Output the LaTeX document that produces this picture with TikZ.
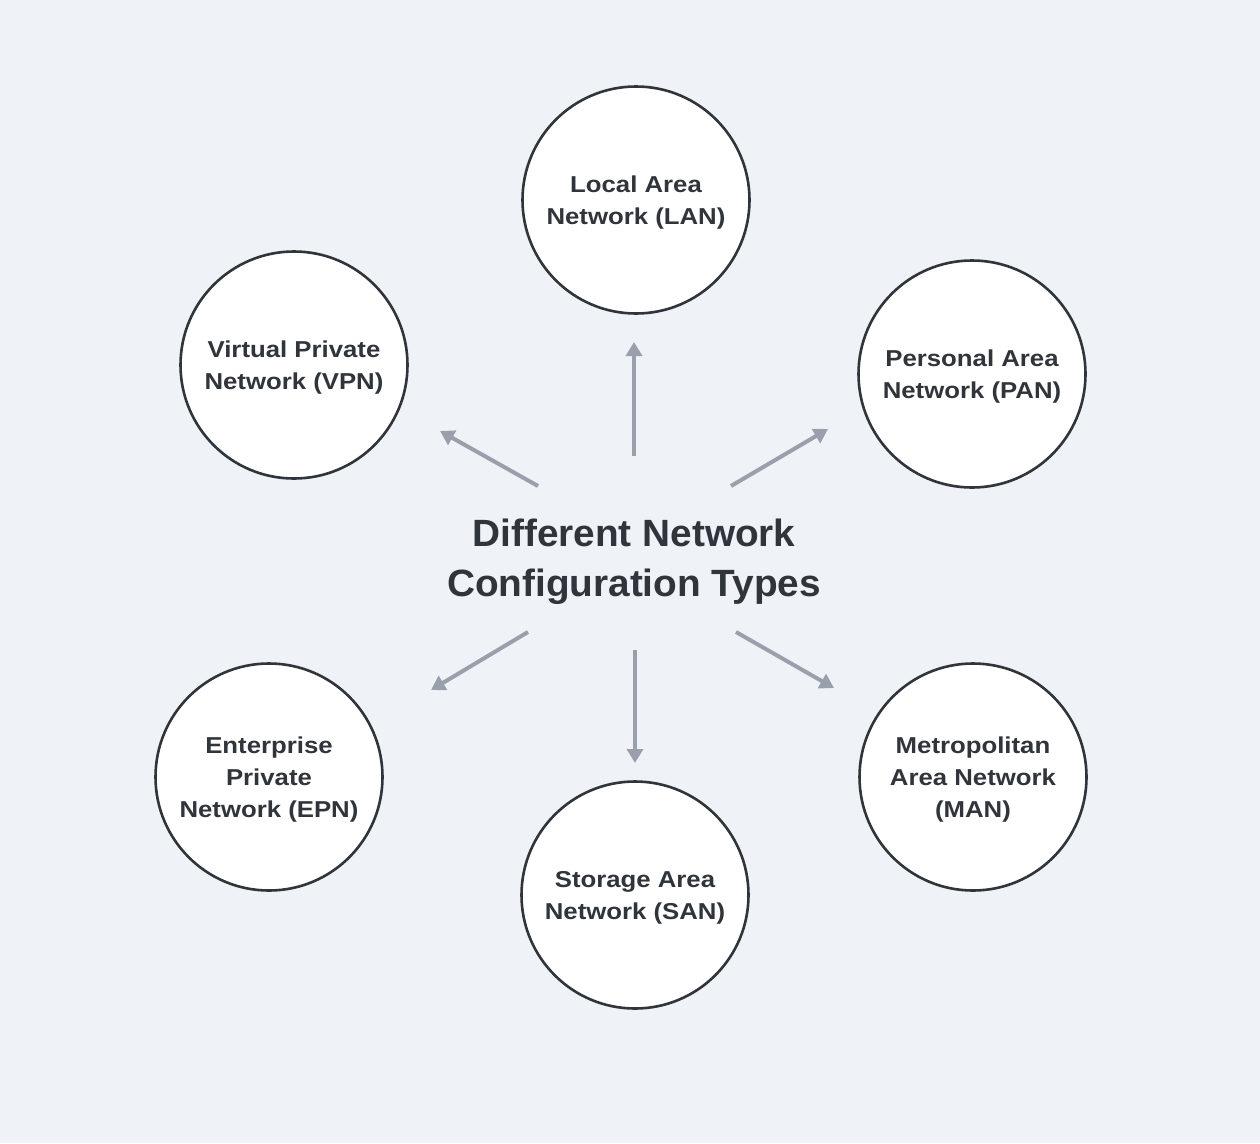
\documentclass[tikz,border=0pt]{standalone}
\usepackage{fontspec}
\setmainfont{Liberation Sans}
\newfontfamily\widesans[FakeStretch=1.12]{Liberation Sans}
\newfontfamily\titlesans[FakeStretch=1.02]{Liberation Sans}
\usetikzlibrary{arrows.meta}
\definecolor{bgc}{HTML}{EFF3F8}
\definecolor{ink}{HTML}{30343B}
\definecolor{arr}{HTML}{9AA0AB}
\begin{document}
\begin{tikzpicture}[x=1pt,y=-1pt,
  netcircle/.style={circle,draw=ink,line width=2.6pt,fill=white,minimum size=227pt,inner sep=0pt,
    text=ink,font=\widesans\fontsize{23}{32}\selectfont\bfseries,align=center,text depth=-5pt},
  titletext/.style={text=ink,font=\titlesans\fontsize{38}{50}\selectfont\bfseries,align=center},
  link/.style={draw=arr,line width=4pt,-{Triangle[width=16pt,length=14pt]}}]
\fill[bgc] (0,0) rectangle (1260,1143);
\useasboundingbox (0,0) rectangle (1260,1143);
\node[titletext] (title) at (634,562) {Different Network\\Configuration Types};
\node[netcircle] (lan) at (636,200) {Local Area\\Network (LAN)};
\node[netcircle] (vpn) at (294,365) {Virtual Private\\Network (VPN)};
\node[netcircle] (pan) at (972,374) {Personal Area\\Network (PAN)};
\node[netcircle] (epn) at (269,777) {Enterprise\\Private\\Network (EPN)};
\node[netcircle] (san) at (635,895) {Storage Area\\Network (SAN)};
\node[netcircle] (man) at (973,777) {Metropolitan\\Area Network\\(MAN)};
\coordinate (s1) at (634,456); \coordinate (t1) at (634,342);
\coordinate (s2) at (538,486); \coordinate (t2) at (440,431);
\coordinate (s3) at (731,486); \coordinate (t3) at (828,429);
\coordinate (s4) at (528,632); \coordinate (t4) at (431,690);
\coordinate (s5) at (635,650); \coordinate (t5) at (635,763);
\coordinate (s6) at (736,632); \coordinate (t6) at (834,688);
\draw[link] (s1) -- (t1);
\draw[link] (s2) -- (t2);
\draw[link] (s3) -- (t3);
\draw[link] (s4) -- (t4);
\draw[link] (s5) -- (t5);
\draw[link] (s6) -- (t6);
\end{tikzpicture}
\end{document}
